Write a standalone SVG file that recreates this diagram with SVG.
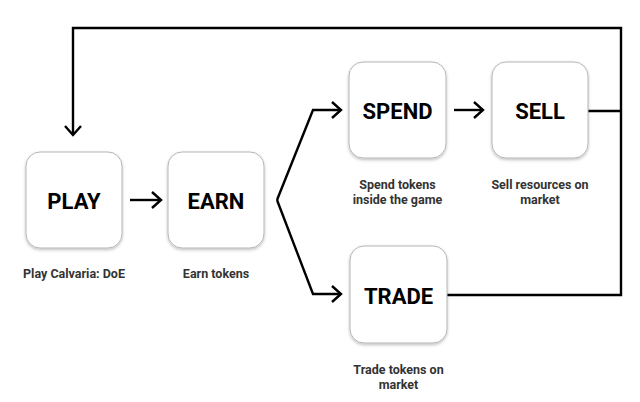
<svg xmlns="http://www.w3.org/2000/svg" width="640" height="402" viewBox="0 0 640 402">
<defs>
<filter id="sh" x="-20%" y="-20%" width="140%" height="140%">
<feDropShadow dx="0" dy="1.5" stdDeviation="1.5" flood-color="#000" flood-opacity="0.25"/>
</filter>
<marker id="ah" viewBox="0 0 12 18" refX="10" refY="9" markerWidth="12" markerHeight="18" markerUnits="userSpaceOnUse" orient="auto">
<path d="M1,1 L10,9 L1,17" fill="none" stroke="#000" stroke-width="2.4"/>
</marker>
<style>
.box{fill:#fff;stroke:#b5b5b5;stroke-width:1;filter:url(#sh)}
.t{font-family:Roboto,"Liberation Sans",sans-serif;font-weight:700;font-size:22px;fill:#000;text-anchor:middle}
.l{font-family:Roboto,"Liberation Sans",sans-serif;font-weight:700;font-size:12.5px;fill:#333;text-anchor:middle}
.c{fill:none;stroke:#000;stroke-width:2.4}
</style>
</defs>
<rect width="640" height="402" fill="#fff"/>
<g id="connectors">
<path class="c" d="M588,111 H621"/>
<path class="c" d="M447,295 H621 V28 H73 V135" marker-end="url(#ah)"/>
<path class="c" d="M130,200 H161" marker-end="url(#ah)"/>
<path class="c" d="M277,200 L313,110 H341" marker-end="url(#ah)"/>
<path class="c" d="M277,200 L313,294 H341" marker-end="url(#ah)"/>
<path class="c" d="M454,110 H483" marker-end="url(#ah)"/>
</g>
<g id="play">
<rect class="box" x="26" y="152" width="96" height="96" rx="14"/>
<text class="t" x="74" y="209">PLAY</text>
<text class="l" x="74" y="278">Play Calvaria: DoE</text>
</g>
<g id="earn">
<rect class="box" x="168" y="152" width="96" height="96" rx="14"/>
<text class="t" x="216" y="209">EARN</text>
<text class="l" x="216" y="278">Earn tokens</text>
</g>
<g id="spend">
<rect class="box" x="349" y="62" width="97" height="96" rx="14"/>
<text class="t" x="397.5" y="119">SPEND</text>
<text class="l" x="397.5" y="189">Spend tokens</text>
<text class="l" x="397.5" y="204">inside the game</text>
</g>
<g id="sell">
<rect class="box" x="492" y="62" width="96" height="96" rx="14"/>
<text class="t" x="540" y="119">SELL</text>
<text class="l" x="540" y="189">Sell resources on</text>
<text class="l" x="540" y="204">market</text>
</g>
<g id="trade">
<rect class="box" x="350" y="246" width="97" height="97" rx="14"/>
<text class="t" x="398.5" y="304">TRADE</text>
<text class="l" x="398.5" y="374">Trade tokens on</text>
<text class="l" x="398.5" y="389">market</text>
</g>
</svg>
